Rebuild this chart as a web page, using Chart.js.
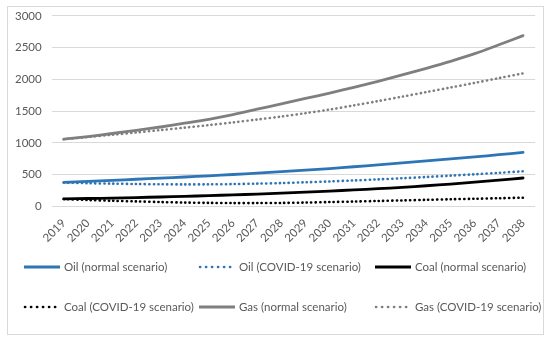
<!DOCTYPE html>
<html>
<head>
<meta charset="utf-8">
<script src="https://cdn.jsdelivr.net/npm/chart.js@4.4.1/dist/chart.umd.min.js"></script>
<style>
  html, body { margin: 0; padding: 0; background: #ffffff; }
  #wrap { position: absolute; left: 7px; top: 6px; width: 535px; height: 327px; border: 1px solid #d9d9d9; background: #fff; }
  canvas { display: block; }
</style>
</head>
<body>
<div id="wrap"><canvas id="c" width="535" height="327"></canvas></div>
<script>
// ---- data ----
const years = ['2019','2020','2021','2022','2023','2024','2025','2026','2027','2028',
               '2029','2030','2031','2032','2033','2034','2035','2036','2037','2038'];
const oilNormal  = [378, 393, 410, 427, 445, 463, 482, 502, 523, 546, 570, 596, 624, 653, 684, 715, 747, 780, 814, 850];
const oilCovid   = [375, 365, 358, 352, 348, 346, 347, 351, 358, 367, 379, 393, 408, 425, 443, 463, 484, 506, 529, 553];
const coalNormal = [118, 124, 131, 139, 148, 158, 169, 181, 194, 208, 224, 241, 259, 278, 300, 325, 352, 381, 413, 447];
const coalCovid  = [115, 100, 88, 78, 68, 60, 55, 52, 52, 54, 60, 68, 76, 85, 94, 103, 112, 120, 128, 137];
const gasNormal  = [1058, 1100, 1148, 1198, 1250, 1310, 1372, 1445, 1530, 1615, 1700, 1785, 1875, 1970, 2070, 2175, 2285, 2405, 2545, 2690];
const gasCovid   = [1058, 1093, 1128, 1164, 1202, 1240, 1280, 1322, 1368, 1415, 1468, 1525, 1590, 1658, 1728, 1800, 1872, 1945, 2020, 2095];
const seriesLabels = ['Oil (normal scenario)', 'Oil (COVID-19 scenario)', 'Coal (normal scenario)',
                      'Coal (COVID-19 scenario)', 'Gas (normal scenario)', 'Gas (COVID-19 scenario)'];
const yTicks = [0, 500, 1000, 1500, 2000, 2500, 3000];

// ---- styles ----
const BLUE = '#2e75b6', BLACK = '#000000', GRAY = '#7f7f7f';
const DOT = [0.2, 4.3];
const FONT = 'Lato, "Liberation Sans", sans-serif';

function solid(label, data, color) {
  return { label, data, borderColor: color, backgroundColor: color, borderWidth: 2.8,
           pointRadius: 0, tension: 0.3, borderCapStyle: 'round', fill: false, dotted: false };
}
function dotted(label, data, color) {
  return { label, data, borderColor: color, backgroundColor: color, borderWidth: 2.6,
           pointRadius: 0, tension: 0.3, borderDash: DOT, borderCapStyle: 'round', fill: false, dotted: true };
}

const datasets = [
  solid(seriesLabels[0], oilNormal, BLUE),
  dotted(seriesLabels[1], oilCovid, BLUE),
  solid(seriesLabels[2], coalNormal, BLACK),
  dotted(seriesLabels[3], coalCovid, BLACK),
  solid(seriesLabels[4], gasNormal, GRAY),
  dotted(seriesLabels[5], gasCovid, GRAY)
];

// custom legend laid out in a 3-column grid like the original
const gridLegend = {
  id: 'gridLegend',
  afterDraw(chart) {
    const ctx = chart.ctx;
    const colX = [16, 191, 367];
    const rowY = [260, 300];
    ctx.save();
    chart.data.datasets.forEach((ds, i) => {
      const x = colX[i % 3], y = rowY[Math.floor(i / 3)];
      ctx.beginPath();
      ctx.strokeStyle = ds.borderColor;
      if (ds.dotted) {
        ctx.lineWidth = 2.6; ctx.lineCap = 'round'; ctx.setLineDash([0.2, 5.8]);
        ctx.moveTo(x + 1, y); ctx.lineTo(x + 32, y);
      } else {
        ctx.lineWidth = 3; ctx.lineCap = 'butt'; ctx.setLineDash([]);
        ctx.moveTo(x, y); ctx.lineTo(x + 36, y);
      }
      ctx.stroke();
      ctx.setLineDash([]);
      ctx.fillStyle = '#595959';
      ctx.font = '11.5px ' + FONT;
      ctx.textBaseline = 'middle';
      ctx.textAlign = 'left';
      ctx.fillText(ds.label, x + 40, y);
    });
    ctx.restore();
  }
};

new Chart(document.getElementById('c'), {
  type: 'line',
  data: { labels: years, datasets },
  options: {
    responsive: false,
    animation: false,
    devicePixelRatio: 1,
    layout: { padding: { left: 5, right: 7, top: 2, bottom: 79 } },
    plugins: { legend: { display: false }, tooltip: { enabled: false } },
    scales: {
      x: {
        type: 'category',
        offset: true,
        grid: { display: false, drawTicks: false },
        border: { display: false },
        ticks: { color: '#595959', font: { family: FONT, size: 11.5 }, padding: 10,
                 maxRotation: 45, minRotation: 45, autoSkip: false }
      },
      y: {
        min: 0, max: 3000,
        afterBuildTicks(scale) { scale.ticks = yTicks.map(v => ({ value: v })); },
        grid: { color: '#d9d9d9', lineWidth: 1, drawTicks: true, tickLength: 8, tickColor: 'rgba(0,0,0,0)' },
        border: { display: false },
        ticks: { color: '#595959', font: { family: FONT, size: 11.5 }, padding: 2,
                 callback: (v) => String(v) }
      }
    }
  },
  plugins: [gridLegend]
});
</script>
</body>
</html>
